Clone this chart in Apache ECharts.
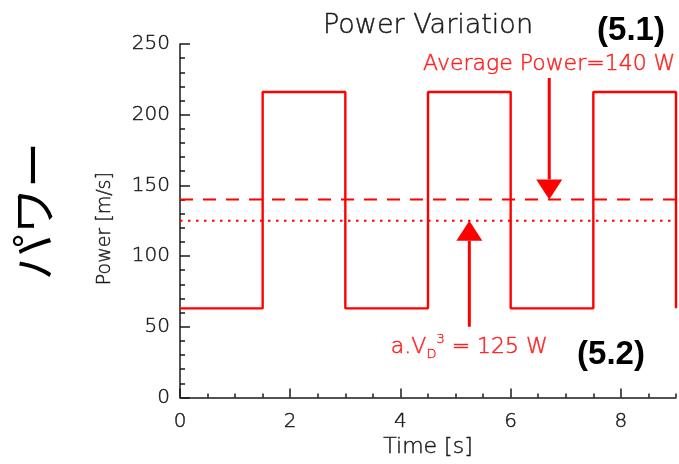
<!DOCTYPE html>
<html>
<head>
<meta charset="utf-8">
<script src="https://cdn.jsdelivr.net/npm/echarts@6/dist/echarts.min.js"></script>
<style>
  html, body { margin: 0; padding: 0; background: #ffffff; }
  #chart { width: 679px; height: 464px; }
</style>
</head>
<body>
<div id="chart"></div>
<script>
// Square-wave power signal: level holds from each switch time until the next one
const switchTimes = [0, 1.5, 3, 4.5, 6, 7.5, 9];
const powerLevels = [63, 216, 63, 216, 63, 216, 63];

// Reference levels
const averagePower = 140;   // dashed
const aeroPower = 125;      // dotted, a.V_D^3

// Axis ranges
const timeRange = [0, 9];
const powerRange = [0, 250];
const timeMajorStep = 2;
const timeMinorStep = 0.5;
const powerMajorStep = 50;

// Annotation arrows: [time, start power, tip power]
const avgArrow = [6.7, 226, averagePower];
const aeroArrow = [5.25, 50, aeroPower];

// Annotation labels: [time, power]
const avgLabelAt = [6.7, 235.5];
const aeroLabelAt = [5.25, 35.5];

const RED = '#ff0000';
const INK = '#1a1a1a';
const FONT = 'DejaVu Sans';
const THIN = 200;

const chart = echarts.init(document.getElementById('chart'), null, { renderer: 'canvas' });

const signal = switchTimes.map((t, i) => [t, powerLevels[i]]);
const flatLine = (v) => [[timeRange[0], v], [timeRange[1], v]];

// Thin outline in the text colour gives the light face a little more body
const inkText = (size) => ({
  fontFamily: FONT, fontWeight: THIN, fontSize: size, color: INK,
  textBorderColor: INK, textBorderWidth: 0.45
});

function renderArrow(params, api) {
  const x = api.value(0);
  const p0 = api.coord([x, api.value(1)]);
  const p1 = api.coord([x, api.value(2)]);
  const dir = p1[1] > p0[1] ? 1 : -1;
  const headLen = 20;
  const headHalf = 13;
  const baseY = p1[1] - dir * headLen;
  return {
    type: 'group',
    children: [
      {
        type: 'line',
        shape: { x1: p0[0], y1: p0[1], x2: p1[0], y2: baseY },
        style: { stroke: RED, lineWidth: 3 }
      },
      {
        type: 'polygon',
        shape: { points: [[p1[0] - headHalf, baseY], [p1[0] + headHalf, baseY], [p1[0], p1[1]]] },
        style: { fill: RED }
      }
    ]
  };
}

const option = {
  backgroundColor: '#ffffff',
  animation: false,
  title: {
    text: 'Power Variation',
    left: 318,
    top: 7,
    textStyle: inkText(27)
  },
  grid: { left: 180, right: 3, top: 44, bottom: 60, containLabel: false },
  xAxis: [
    {
      type: 'value',
      min: timeRange[0],
      max: timeRange[1],
      interval: timeMajorStep,
      name: 'Time [s]',
      nameLocation: 'middle',
      nameGap: 33,
      nameTextStyle: inkText(22),
      axisLine: { show: true, lineStyle: { color: INK, width: 1.5 } },
      axisTick: { show: true, inside: true, length: 9, lineStyle: { color: INK, width: 1.5 } },
      axisLabel: Object.assign(inkText(20), { margin: 14, showMaxLabel: false }),
      splitLine: { show: false }
    },
    {
      type: 'value',
      min: timeRange[0],
      max: timeRange[1],
      interval: timeMinorStep,
      position: 'bottom',
      axisLine: { show: false },
      axisTick: { show: true, inside: true, length: 4, lineStyle: { color: INK, width: 1.5 } },
      axisLabel: { show: false },
      splitLine: { show: false }
    }
  ],
  yAxis: {
    type: 'value',
    min: powerRange[0],
    max: powerRange[1],
    interval: powerMajorStep,
    name: 'Power [m/s]',
    nameLocation: 'middle',
    nameGap: 65,
    nameTextStyle: Object.assign(inkText(19), { padding: [0, 16, 0, 0] }),
    axisLine: { show: true, lineStyle: { color: INK, width: 1.5 } },
    axisTick: { show: true, inside: true, length: 10, lineStyle: { color: INK, width: 1.5 } },
    minorTick: { show: true, splitNumber: 5, length: 5, lineStyle: { color: INK, width: 1.5 } },
    axisLabel: Object.assign(inkText(20), { margin: 10 }),
    splitLine: { show: false }
  },
  series: [
    {
      name: 'power',
      type: 'line',
      step: 'end',
      data: signal,
      showSymbol: false,
      lineStyle: { color: RED, width: 2.4 },
      z: 3
    },
    {
      name: 'average',
      type: 'line',
      data: flatLine(averagePower),
      showSymbol: false,
      lineStyle: { color: RED, width: 2, type: [13, 10] },
      z: 2
    },
    {
      name: 'aero',
      type: 'line',
      data: flatLine(aeroPower),
      showSymbol: false,
      lineStyle: { color: RED, width: 2, type: [2.5, 5.5] },
      z: 2
    },
    {
      name: 'arrows',
      type: 'custom',
      renderItem: renderArrow,
      data: [avgArrow, aeroArrow],
      clip: false,
      z: 4
    },
    {
      name: 'labels',
      type: 'scatter',
      symbolSize: 0,
      silent: true,
      z: 5,
      data: [
        {
          value: avgLabelAt,
          label: { formatter: 'Average Power=' + averagePower + ' W' }
        },
        {
          value: aeroLabelAt,
          label: { formatter: 'a.V{sub|D}{sup|3} = ' + aeroPower + ' W' }
        }
      ],
      label: {
        show: true,
        position: 'inside',
        fontFamily: FONT,
        fontWeight: THIN,
        fontSize: 22,
        lineHeight: 28,
        color: RED,
        textBorderColor: RED,
        textBorderWidth: 0.5,
        rich: {
          sub: { fontFamily: FONT, fontWeight: THIN, fontSize: 13, lineHeight: 12, verticalAlign: 'bottom', color: RED, textBorderColor: RED, textBorderWidth: 0.4 },
          sup: { fontFamily: FONT, fontWeight: THIN, fontSize: 13, lineHeight: 12, verticalAlign: 'top', color: RED, textBorderColor: RED, textBorderWidth: 0.4 }
        }
      }
    }
  ],
  graphic: [
    {
      type: 'text',
      x: 33,
      y: 211,
      rotation: Math.PI / 2,
      style: {
        text: 'パワー',
        font: '46px "Noto Sans CJK JP"',
        fill: '#000000',
        align: 'center',
        verticalAlign: 'middle'
      }
    },
    {
      type: 'text',
      x: 631,
      y: 31,
      style: {
        text: '(5.1)',
        font: 'bold 33px "Liberation Sans"',
        fill: '#000000',
        align: 'center',
        verticalAlign: 'middle'
      }
    },
    {
      type: 'text',
      x: 611,
      y: 355,
      style: {
        text: '(5.2)',
        font: 'bold 33px "Liberation Sans"',
        fill: '#000000',
        align: 'center',
        verticalAlign: 'middle'
      }
    }
  ]
};

chart.setOption(option);
</script>
</body>
</html>
